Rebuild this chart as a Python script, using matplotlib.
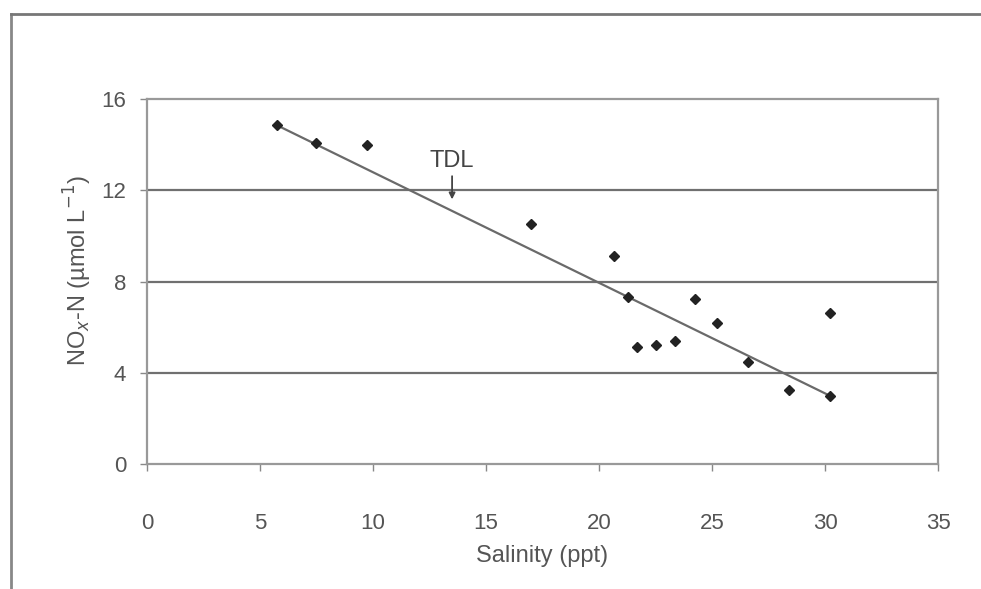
import matplotlib.pyplot as plt
from matplotlib.lines import Line2D

plt.rcParams['font.family'] = ['Liberation Sans', 'DejaVu Sans']

# data
salinity = [5.75, 7.5, 9.75, 17.0, 20.65, 21.3, 21.7, 22.5, 23.35, 24.25,
            25.2, 26.6, 28.4, 30.2, 30.2]
nox = [14.85, 14.05, 14.0, 10.5, 9.1, 7.3, 5.15, 5.2, 5.4, 7.25,
       6.2, 4.45, 3.25, 6.6, 3.0]
fit_x = [5.75, 30.2]
fit_y = [14.85, 3.0]
tdl_x = 13.5
tdl_y = 11.6
xticks = [0, 5, 10, 15, 20, 25, 30, 35]
yticks = [0, 4, 8, 12, 16]

fig = plt.figure(figsize=(9.81, 5.89), dpi=100)
ax = fig.add_axes([0.1498, 0.2122, 0.8064, 0.6197])

txt = '#555555'
for y in yticks[1:-1]:
    ax.axhline(y, color='#707070', lw=1.6, zorder=1)

ax.plot(fit_x, fit_y, color='#6a6a6a', lw=1.6, zorder=2)
ax.plot(salinity, nox, 'D', color='#222222', ms=5.5, zorder=3)

ax.annotate('TDL', xy=(tdl_x, tdl_y), xytext=(tdl_x, 12.8),
            ha='center', va='bottom', fontsize=17, color='#444444',
            arrowprops=dict(arrowstyle='-|>', color='#444444', lw=1.3,
                            mutation_scale=9, shrinkA=1, shrinkB=0))

ax.set_xlim(0, 35)
ax.set_ylim(0, 16)
ax.set_xticks(xticks)
ax.set_yticks(yticks)
ax.tick_params(axis='x', direction='out', length=5, width=1, colors='#888888',
               labelcolor=txt, labelsize=16, pad=30)
ax.tick_params(axis='y', direction='out', length=5, width=1, colors='#888888',
               labelcolor=txt, labelsize=16, pad=10)
for s in ax.spines.values():
    s.set_color('#999999')
    s.set_linewidth(1.6)

ax.set_xlabel('Salinity (ppt)', fontsize=17, color=txt, labelpad=8)
ax.set_ylabel('NO$_x$-N (\u00b5mol L$^{-1}$)', fontsize=17, color=txt)
ax.yaxis.set_label_coords(-0.067, 0.53)

# outer frame (left and top edges)
fig.add_artist(Line2D([0.011, 0.011], [0.0, 0.976], transform=fig.transFigure,
                      color='#888888', lw=2))
fig.add_artist(Line2D([0.011, 1.0], [0.976, 0.976], transform=fig.transFigure,
                      color='#777777', lw=2))

fig.savefig('out.png', dpi=100)
